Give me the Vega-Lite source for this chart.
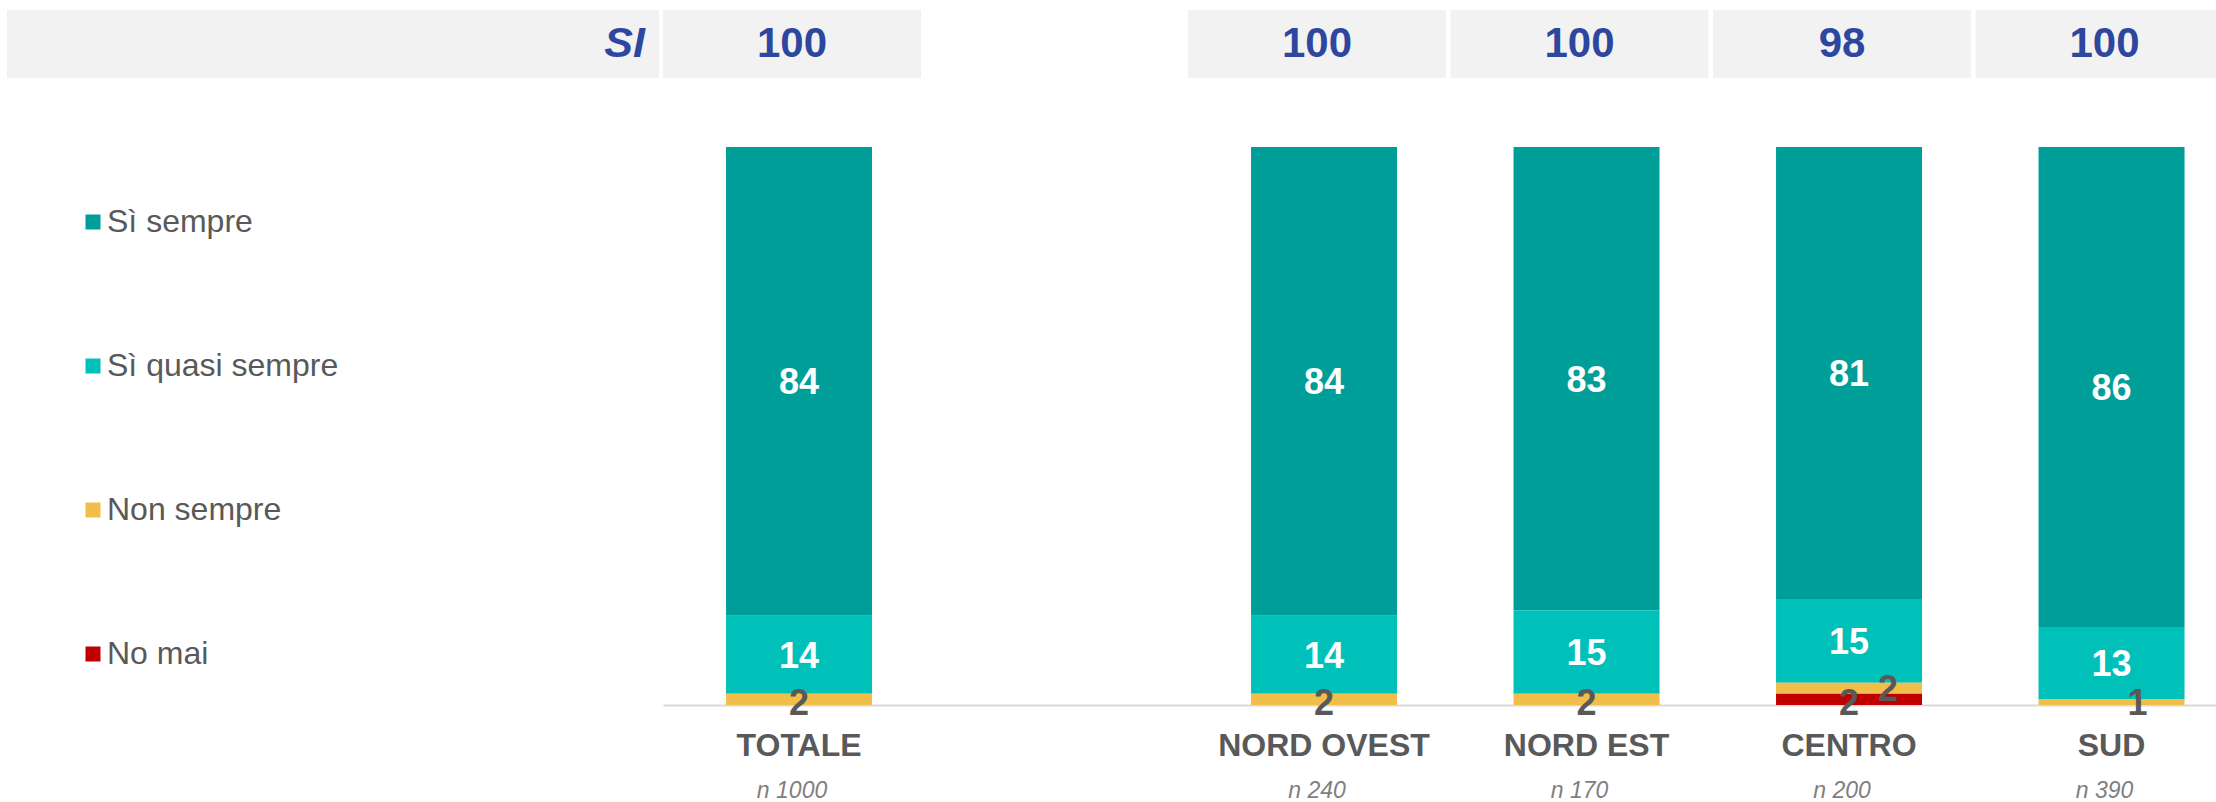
{
  "$schema": "https://vega.github.io/schema/vega-lite/v6.json",
  "padding": {"left": 7, "top": 10, "right": 0, "bottom": 0},
  "background": "white",
  "config": {"font": "Liberation Sans", "view": {"stroke": null}},
  "datasets": {
    "shares": [
      {"region": "TOTALE", "series": "Sì sempre", "value": 84},
      {"region": "TOTALE", "series": "Sì quasi sempre", "value": 14},
      {"region": "TOTALE", "series": "Non sempre", "value": 2},
      {"region": "NORD OVEST", "series": "Sì sempre", "value": 84},
      {"region": "NORD OVEST", "series": "Sì quasi sempre", "value": 14},
      {"region": "NORD OVEST", "series": "Non sempre", "value": 2},
      {"region": "NORD EST", "series": "Sì sempre", "value": 83},
      {"region": "NORD EST", "series": "Sì quasi sempre", "value": 15},
      {"region": "NORD EST", "series": "Non sempre", "value": 2},
      {"region": "CENTRO", "series": "Sì sempre", "value": 81},
      {"region": "CENTRO", "series": "Sì quasi sempre", "value": 15},
      {"region": "CENTRO", "series": "Non sempre", "value": 2},
      {"region": "CENTRO", "series": "No mai", "value": 2},
      {"region": "SUD", "series": "Sì sempre", "value": 86},
      {"region": "SUD", "series": "Sì quasi sempre", "value": 13},
      {"region": "SUD", "series": "Non sempre", "value": 1}
    ],
    "header": [
      {"region": "TOTALE", "si": 100, "nlabel": "n 1000"},
      {"region": "NORD OVEST", "si": 100, "nlabel": "n 240"},
      {"region": "NORD EST", "si": 100, "nlabel": "n 170"},
      {"region": "CENTRO", "si": 98, "nlabel": "n 200"},
      {"region": "SUD", "si": 100, "nlabel": "n 390"}
    ]
  },
  "hconcat": [
    {
      "width": 652,
      "height": 68,
      "view": {"fill": "#f2f2f2", "stroke": null},
      "data": {"values": [{"label": "SI"}]},
      "mark": {"type": "text", "align": "right", "baseline": "middle", "dx": -14, "fontSize": 43, "fontWeight": "bold", "fontStyle": "italic", "color": "#2e479e"},
      "encoding": {"x": {"value": "width"}, "text": {"field": "label"}}
    },
    {
      "spacing": 69,
      "resolve": {"scale": {"x": "shared"}},
      "vconcat": [
        {
          "width": 1553,
          "height": 68,
          "data": {"name": "header"},
          "layer": [
            {
              "mark": {"type": "bar", "color": "#f2f2f2", "width": {"band": 1.767}, "xOffset": -7, "clip": true},
              "encoding": {"x": {"field": "region", "type": "nominal", "axis": null}}
            },
            {
              "mark": {"type": "text", "fontSize": 42, "fontWeight": "bold", "color": "#2e479e", "xOffset": -7, "baseline": "middle"},
              "encoding": {"x": {"field": "region", "type": "nominal", "axis": null}, "text": {"field": "si"}}
            }
          ]
        },
        {
          "spacing": 18,
          "resolve": {"scale": {"x": "shared"}},
          "vconcat": [
            {
              "width": 1553,
              "height": 558,
              "data": {"name": "shares"},
              "transform": [
                {"stack": "value", "groupby": ["region"], "sort": [{"field": "series", "order": "ascending"}], "as": ["v0", "v1"]}
              ],
              "encoding": {
                "x": {
                  "field": "region",
                  "type": "nominal",
                  "scale": {"domain": ["TOTALE", " ", "NORD OVEST", "NORD EST", "CENTRO", "SUD"], "paddingInner": 0.4438, "paddingOuter": 0.18, "align": 0.667},
                  "axis": {"title": null, "orient": "bottom", "ticks": false, "tickSize": 0, "domain": true, "domainColor": "#d9d9d9", "domainWidth": 2, "labelFontSize": 32, "labelFontWeight": "bold", "labelColor": "#595959", "labelPadding": 25, "labelAngle": 0, "labelLimit": 500, "grid": false}
                }
              },
              "layer": [
                {
                  "mark": {"type": "bar"},
                  "encoding": {
                    "y": {"field": "v1", "type": "quantitative", "scale": {"domain": [0, 100]}, "axis": null},
                    "y2": {"field": "v0"},
                    "color": {
                      "field": "series",
                      "type": "nominal",
                      "scale": {"domain": ["Sì sempre", "Sì quasi sempre", "Non sempre", "No mai"], "range": ["#009e99", "#00c0ba", "#f2be4a", "#c00000"]},
                      "legend": {"title": null, "orient": "none", "legendX": 70, "legendY": 196, "direction": "vertical", "symbolType": "square", "symbolSize": 225, "symbolStrokeWidth": 0, "labelFontSize": 32, "labelColor": "#595959", "labelOffset": -2, "rowPadding": 112, "padding": 0, "labelLimit": 500}
                    }
                  }
                },
                {
                  "transform": [
                    {"fold": ["v0", "v1"], "as": ["edge", "pos"]},
                    {"aggregate": [{"op": "mean", "field": "pos", "as": "mid"}], "groupby": ["region", "series", "value"]}
                  ],
                  "layer": [
                    {
                      "transform": [{"filter": "datum.series == 'Sì sempre' || datum.series == 'Sì quasi sempre'"}],
                      "mark": {"type": "text", "color": "white", "fontSize": 36, "fontWeight": "bold", "baseline": "middle", "dy": 2},
                      "encoding": {"y": {"field": "mid", "type": "quantitative"}, "text": {"field": "value"}}
                    },
                    {
                      "transform": [{"filter": "(datum.series == 'Non sempre' || datum.series == 'No mai') && !(datum.series == 'Non sempre' && (datum.region == 'CENTRO' || datum.region == 'SUD'))"}],
                      "mark": {"type": "text", "color": "#595959", "fontSize": 36, "fontWeight": "bold", "baseline": "middle", "dy": 5},
                      "encoding": {"y": {"field": "mid", "type": "quantitative"}, "text": {"field": "value"}}
                    },
                    {
                      "transform": [{"filter": "datum.series == 'Non sempre' && datum.region == 'CENTRO'"}],
                      "mark": {"type": "text", "color": "#595959", "fontSize": 36, "fontWeight": "bold", "baseline": "middle", "dx": 39, "dy": 2},
                      "encoding": {"y": {"field": "mid", "type": "quantitative"}, "text": {"field": "value"}}
                    },
                    {
                      "transform": [{"filter": "datum.series == 'Non sempre' && datum.region == 'SUD'"}],
                      "mark": {"type": "text", "color": "#595959", "fontSize": 36, "fontWeight": "bold", "baseline": "middle", "dx": 26, "dy": 2},
                      "encoding": {"y": {"field": "mid", "type": "quantitative"}, "text": {"field": "value"}}
                    }
                  ]
                }
              ]
            },
            {
              "width": 1553,
              "height": 24,
              "data": {"name": "header"},
              "mark": {"type": "text", "fontSize": 23, "fontStyle": "italic", "color": "#7f7f7f", "xOffset": -7, "baseline": "middle"},
              "encoding": {"x": {"field": "region", "type": "nominal", "axis": null}, "text": {"field": "nlabel"}}
            }
          ]
        }
      ]
    }
  ],
  "spacing": 4
}
